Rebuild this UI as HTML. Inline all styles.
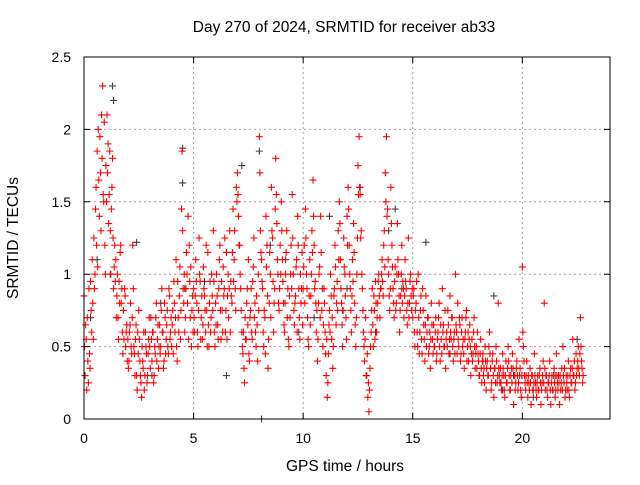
<!DOCTYPE html>
<html><head><meta charset="utf-8"><style>
body{margin:0;background:#fff;}
svg text{font-family:"Liberation Sans",sans-serif;font-size:14px;fill:#000;}
svg text.big{font-size:15.5px;}
</style></head><body>
<svg id="chart" width="640" height="480" xmlns="http://www.w3.org/2000/svg">
<rect width="640" height="480" fill="#fff"/>
<text class="big" x="344" y="32" text-anchor="middle">Day 270 of 2024, SRMTID for receiver ab33</text>
<g id="grid"></g>
<g id="marks"></g>
<rect x="84" y="57" width="526" height="362" fill="none" stroke="#000" stroke-width="1"/>
<g id="ticks"></g>
<text class="big" transform="translate(18,238) rotate(-90)" text-anchor="middle">SRMTID / TECUs</text>
<text class="big" x="345" y="471" text-anchor="middle">GPS time / hours</text>
</svg>
<script>
const xTicks=[0,5,10,15,20];
const yTicks=[0,0.5,1,1.5,2,2.5];
const yTickLabels=["0","0.5","1","1.5","2","2.5"];
const redHours=[0,1,2,3,4,5,6,7,8,9,10,11,12,13,14,15,16,17,18,19,20,21,22];
const redValues=[
[0.85,0.3,0.55,0.7,0.25,0.45,0.95,0.6,0.8,1.25,1.0,1.6,1.85,2.0,1.4,1.7,2.1,2.3,1.5,1.2],
[1.75,2.1,1.9,1.55,1.3,1.45,1.8,0.9,1.2,1.1,0.85,0.7,0.95,1.15,0.8,0.6,0.75,0.9,0.5,0.65],
[0.55,0.4,0.65,0.5,0.7,0.9,0.45,0.55,0.3,0.6,0.75,0.4,0.25,0.5,0.35,0.2,0.6,0.45,0.3,0.55],
[0.5,0.7,0.4,0.6,0.3,0.45,0.8,0.55,0.35,0.65,0.5,0.9,0.6,0.4,0.7,0.55,0.75,0.45,0.85,0.6],
[0.5,0.75,0.95,0.6,1.1,0.4,0.7,0.85,0.55,1.45,1.3,0.8,0.6,0.9,1.0,1.4,1.2,0.7,0.5,0.85],
[0.9,0.6,1.1,0.8,0.5,1.25,0.95,0.7,0.55,1.05,0.85,0.6,0.75,1.15,0.5,0.95,0.7,0.85,1.3,0.6],
[0.8,1.0,0.65,0.9,1.2,0.55,0.75,1.05,0.9,0.6,1.15,0.85,0.7,1.3,0.95,0.8,1.45,1.1,0.9,1.6],
[1.7,1.4,1.2,0.9,0.6,0.45,0.35,0.7,0.55,0.9,1.1,0.4,0.75,0.6,0.95,1.25,0.8,0.5,0.65,1.0],
[1.95,1.3,1.1,0.9,0.5,0.7,1.4,1.2,0.35,0.8,1.0,1.6,1.25,0.6,0.9,1.8,1.35,1.0,0.75,1.2],
[1.5,1.1,0.8,0.6,1.0,1.3,0.9,0.5,0.7,1.2,1.55,1.0,0.65,0.85,1.1,1.4,0.9,0.55,0.8,1.15],
[0.9,1.2,1.45,1.0,0.7,0.5,1.1,0.85,1.3,1.65,1.2,0.95,0.6,0.4,0.8,1.05,1.4,0.75,0.5,0.9],
[0.6,0.3,0.15,0.45,0.75,1.0,0.55,0.35,0.85,1.2,0.65,0.95,1.3,1.5,1.1,0.8,0.5,1.25,1.0,0.7],
[1.4,1.6,1.2,0.9,0.6,1.1,1.35,0.8,0.5,1.0,1.75,1.95,1.55,1.3,0.9,0.6,0.4,0.7,0.3,0.15],
[0.05,0.35,0.6,0.9,0.5,0.75,0.95,0.6,0.8,1.0,0.7,0.9,1.1,0.85,1.3,1.7,1.95,1.45,1.0,0.75],
[1.6,1.2,0.9,0.7,1.05,0.8,1.35,1.0,0.6,0.85,1.2,0.95,0.7,1.1,0.9,0.65,1.25,0.8,1.0,0.75],
[0.7,0.9,0.5,0.8,0.6,1.0,0.45,0.75,0.55,0.9,0.65,0.4,0.85,0.6,0.7,0.5,0.35,0.8,0.55,0.65],
[0.5,0.7,0.45,0.6,0.8,0.4,0.55,0.9,0.65,0.5,0.35,0.6,0.75,0.45,0.85,0.55,0.7,0.4,0.6,1.0],
[0.6,0.8,0.5,0.65,0.45,0.7,0.55,0.35,0.6,0.75,0.5,0.4,0.65,0.3,0.55,0.45,0.7,0.35,0.5,0.6],
[0.4,0.3,0.55,0.25,0.45,0.35,0.5,0.2,0.4,0.3,0.6,0.35,0.25,0.45,0.15,0.35,0.5,0.25,0.8,0.3],
[0.35,0.2,0.45,0.3,0.15,0.4,0.25,0.5,0.3,0.2,0.35,0.45,0.1,0.3,0.25,0.4,0.2,0.55,0.35,0.15],
[1.05,0.5,0.3,0.2,0.4,0.15,0.25,0.35,0.1,0.3,0.2,0.45,0.25,0.15,0.3,0.2,0.35,0.1,0.25,0.4],
[0.8,0.2,0.3,0.15,0.25,0.4,0.1,0.3,0.2,0.35,0.15,0.45,0.25,0.3,0.1,0.2,0.35,0.5,0.25,0.15],
[0.3,0.2,0.4,0.15,0.35,0.25,0.55,0.3,0.2,0.45,0.35,0.5,0.3,0.7,0.4,0.25]
];
const redValues2=[
[0.5,0.65,0.2,0.4,0.9,0.35,0.75,1.1,0.55,0.9,1.45,1.2,1.05,1.65,1.95,1.3,1.8,1.55,2.05,1.0],
[1.5,1.7,1.35,1.85,1.0,1.6,1.25,1.05,0.95,0.7,1.0,0.55,0.8,1.2,0.9,0.45,0.55,0.85,0.6,0.4],
[0.35,0.6,0.8,0.45,1.2,0.5,0.3,0.65,0.2,0.45,0.55,0.3,0.15,0.4,0.6,0.3,0.5,0.25,0.45,0.7],
[0.35,0.55,0.6,0.25,0.5,0.7,0.4,0.65,0.5,0.45,0.75,0.6,0.35,0.8,0.45,0.65,0.5,0.9,0.55,0.7],
[0.65,0.45,0.8,0.7,0.5,0.95,0.6,1.05,0.75,1.85,0.9,1.0,0.7,1.15,0.8,0.55,0.95,1.05,0.75,0.6],
[0.7,0.85,0.95,0.6,0.75,1.0,0.55,0.85,0.65,0.9,0.75,1.2,0.5,0.65,0.8,0.6,1.0,0.75,0.95,0.5],
[0.65,0.85,0.55,1.1,0.75,0.95,0.6,0.85,1.25,0.75,0.55,1.0,0.9,0.6,0.85,1.15,0.95,1.3,0.75,1.5],
[1.55,1.2,1.0,0.75,0.5,0.6,0.25,0.55,0.8,0.65,0.45,0.7,0.9,0.55,1.05,0.7,0.6,0.85,0.4,0.75],
[1.7,1.15,0.95,0.6,0.75,0.45,1.05,0.85,0.55,1.15,0.7,1.3,0.95,0.8,1.45,1.55,1.1,0.8,0.9,1.0],
[1.3,0.95,0.65,0.8,1.15,0.7,0.55,0.85,1.0,0.9,1.25,0.75,0.8,1.05,0.6,1.2,0.7,1.0,0.9,0.65],
[1.05,0.8,1.25,0.9,0.55,0.85,0.65,1.0,1.15,1.4,0.9,0.8,0.75,0.55,1.0,0.7,1.15,0.9,0.65,0.8],
[0.45,0.55,0.25,0.65,0.6,0.85,0.7,0.5,0.9,1.05,0.8,0.75,1.1,1.35,0.9,0.65,0.75,1.05,0.85,0.55],
[1.2,1.45,1.0,0.75,0.85,0.95,1.15,0.65,0.7,1.25,1.55,1.6,1.25,1.0,0.75,0.5,0.55,0.3,0.45,0.25],
[0.2,0.5,0.75,0.65,0.85,0.55,0.8,0.7,0.95,0.85,0.9,1.0,0.95,1.2,1.05,1.5,1.4,1.1,0.85,0.9],
[1.35,1.05,0.8,0.95,0.75,1.0,1.1,0.85,0.75,1.0,0.8,0.9,0.85,0.95,0.75,0.8,0.7,0.95,0.85,0.9],
[0.85,0.6,0.75,0.95,0.5,0.7,0.6,0.85,0.45,0.75,0.55,0.65,0.5,0.7,0.45,0.6,0.55,0.65,0.45,0.5],
[0.6,0.4,0.55,0.7,0.5,0.65,0.45,0.6,0.5,0.75,0.55,0.5,0.65,0.55,0.6,0.7,0.5,0.55,0.45,0.65],
[0.45,0.55,0.7,0.4,0.6,0.5,0.45,0.55,0.7,0.4,0.6,0.55,0.5,0.45,0.4,0.6,0.5,0.45,0.35,0.45],
[0.3,0.45,0.35,0.4,0.3,0.25,0.4,0.35,0.3,0.5,0.45,0.2,0.4,0.3,0.35,0.25,0.4,0.3,0.35,0.25],
[0.25,0.3,0.35,0.2,0.3,0.25,0.35,0.4,0.2,0.3,0.25,0.35,0.3,0.2,0.35,0.3,0.25,0.3,0.2,0.3],
[0.6,0.4,0.25,0.3,0.25,0.3,0.2,0.25,0.3,0.2,0.25,0.3,0.2,0.25,0.2,0.3,0.25,0.2,0.3,0.25],
[0.35,0.3,0.2,0.25,0.3,0.2,0.25,0.2,0.3,0.25,0.2,0.3,0.2,0.25,0.3,0.25,0.2,0.3,0.35,0.2],
[0.25,0.3,0.2,0.3,0.25,0.35,0.3,0.4,0.25,0.3,0.4,0.35,0.45,0.5,0.35,0.3]
];
const grayTimes=[0.3,0.6,1.3,1.35,1.2,2.4,3.1,4.5,4.5,4.6,6.5,7.2,8.0,8.1,8.5,9.2,10.5,11.2,12.0,12.6,13.3,13.9,14.5,15.6,16.2,17.0,17.5,18.2,18.7,19.6,20.5,22.5,3.5,5.5,9.8,11.8,14.2,16.7,19.1,21.5];
const grayValues=[0.7,1.1,2.3,2.2,1.0,1.22,0.3,1.87,1.63,0.9,0.3,1.75,1.85,0.0,1.2,1.1,0.7,1.4,0.9,1.6,0.6,1.3,0.9,1.22,0.8,0.6,0.5,0.4,0.85,0.3,0.15,0.55,0.8,0.95,0.6,0.75,1.45,0.45,0.2,0.3];

const NS="http://www.w3.org/2000/svg";
const X0=84,X1=610,Y0=419,Y1=57,XMAX=24,YMAX=2.5;
const sx=t=>X0+t*(X1-X0)/XMAX;
const sy=v=>Y0-v*(Y0-Y1)/YMAX;
const grid=document.getElementById('grid'),ticks=document.getElementById('ticks'),marks=document.getElementById('marks');
function mk(tag,attrs,parent){const e=document.createElementNS(NS,tag);for(const k in attrs)e.setAttribute(k,attrs[k]);parent.appendChild(e);return e;}
xTicks.forEach(t=>{
  const x=sx(t);
  if(t>0){const g=mk('line',{x1:x,x2:x,y1:Y1,y2:Y0,stroke:'#a0a0a0','stroke-dasharray':'2,3'},grid);
  
  }
  const tk=mk('path',{d:`M${x},${Y0}v-6M${x},${Y1}v6`,stroke:'#000'},ticks);
  
  
  const l=mk('text',{x:x,y:443,'text-anchor':'middle'},ticks);l.textContent=String(t);
  
  
});
yTicks.forEach((v,i)=>{
  const y=sy(v);
  if(v>0&&v<YMAX){const g=mk('line',{x1:X0,x2:X1,y1:y,y2:y,stroke:'#a0a0a0','stroke-dasharray':'2,3'},grid);
  
  }
  const tk=mk('path',{d:`M${X0},${y}h6M${X1},${y}h-6`,stroke:'#000'},ticks);
  
  
  const l=mk('text',{x:71,y:y+5,'text-anchor':'end'},ticks);l.textContent=yTickLabels[i];
  
  
});
function plus(t,v,color,name){
  const x=sx(t),y=sy(v);
  const p=mk('path',{d:`M${x-3.5},${y}h7M${x},${y-3.5}v7`,stroke:color,'stroke-width':1.1},marks);
  
  
}
grayTimes.forEach((t,i)=>plus(t,grayValues[i],'#404040','gray-point'));
redHours.forEach((h,hi)=>{
  redValues[hi].forEach((v,i)=>plus(h+i/20,v,'#ff0000','red-point'));
  redValues2[hi].forEach((v,i)=>plus(h+i/20+0.025,v,'#ff0000','red-point'));
});
</script>
</body></html>
